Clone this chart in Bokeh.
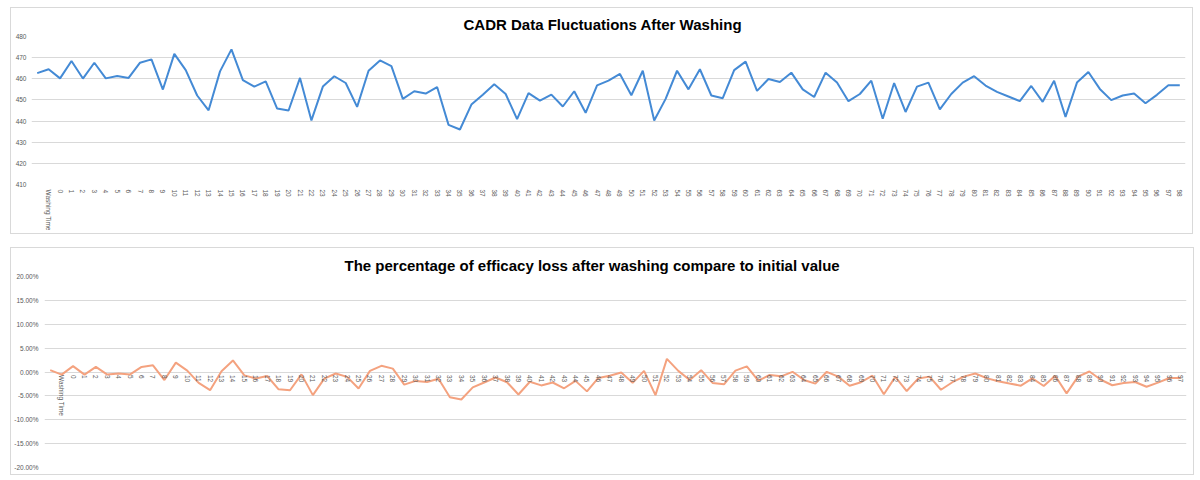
from bokeh.plotting import figure
from bokeh.models import FactorRange, SingleIntervalTicker, PrintfTickFormatter
from bokeh.embed import file_html
from bokeh.resources import INLINE

# --- CADR readings: an unlabelled initial test, the "Washing Time" header row, then washes 0..98
cadr_labels = ["", "Washing Time"] + [str(n) for n in range(99)]
cadr_values = [
    462.7, 464.5, 460.2, 468.4, 460.1, 467.6, 460.2, 461.3, 460.4, 467.6,
    469.2, 454.9, 471.8, 464.1, 452.1, 445.1, 463.5, 473.9, 459.4, 456.3,
    458.8, 445.9, 445.0, 460.4, 440.3, 456.3, 461.2, 458.0, 446.7, 463.8,
    468.7, 466.0, 450.5, 454.1, 453.0, 456.1, 438.2, 436.0, 447.8, 452.5,
    457.4, 452.8, 440.9, 453.2, 449.7, 452.5, 446.9, 454.1, 443.9, 456.9,
    459.1, 462.3, 452.2, 463.8, 440.3, 450.5, 463.8, 455.0, 464.5, 452.1,
    450.8, 464.1, 468.1, 454.3, 459.9, 458.5, 462.9, 455.0, 451.4, 462.9,
    458.2, 449.4, 452.8, 459.1, 441.1, 458.0, 444.3, 456.3, 458.2, 445.5,
    452.8, 458.2, 461.2, 456.8, 453.8, 451.6, 449.4, 456.6, 449.1, 459.1,
    442.0, 458.2, 463.2, 455.2, 449.9, 452.1, 453.0, 448.4, 452.4, 456.9,
    456.9,
]

# --- efficacy change against the initial value, in percent
loss_labels = ["", "Washing Time"] + [str(n) for n in range(98)]
loss_pct = [
    0.39, -0.54, 1.23, -0.56, 1.06, -0.54, -0.30, -0.50, 1.06, 1.40,
    -1.69, 1.97, 0.30, -2.29, -3.80, 0.17, 2.42, -0.71, -1.38, -0.84,
    -3.63, -3.83, -0.50, -4.84, -1.38, -0.32, -1.02, -3.46, 0.24, 1.30,
    0.71, -2.64, -1.86, -2.10, -1.43, -5.30, -5.77, -3.22, -2.20, -1.15,
    -2.14, -4.71, -2.05, -2.81, -2.20, -3.41, -1.86, -4.06, -1.25, -0.78,
    -0.09, -2.27, 0.24, -4.84, 2.75, 0.24, -1.66, 0.39, -2.29, -2.57,
    0.30, 1.17, -1.82, -0.61, -0.91, 0.04, -1.66, -2.44, 0.04, -0.97,
    -2.87, -2.14, -0.78, -4.67, -1.02, -3.98, -1.38, -0.97, -3.72, -2.14,
    -0.97, -0.32, -1.28, -1.92, -2.40, -2.87, -1.32, -2.94, -0.78, -4.47,
    -0.97, 0.11, -1.62, -2.77, -2.29, -2.10, -3.09, -2.23, -1.25, -1.25,
]

TITLE_FONT = "Liberation Sans"
LABEL_FONT = "Liberation Sans"
GRID = "#d9d9d9"
TEXT = "#595959"
BOX = {"border": "1px solid #d9d9d9"}


def style_axes(p, title, title_offset, title_standoff):
    p.outline_line_color = None
    p.xgrid.visible = False
    p.ygrid.grid_line_color = GRID
    for ax in (p.xaxis[0], p.yaxis[0]):
        ax.axis_line_color = None
        ax.major_tick_line_color = None
        ax.minor_tick_line_color = None
        ax.major_tick_in = 0
        ax.major_tick_out = 0
        ax.minor_tick_in = 0
        ax.minor_tick_out = 0
        ax.major_label_text_font = LABEL_FONT
        ax.major_label_text_font_size = "6.5px"
        ax.major_label_text_color = TEXT
    p.xaxis.major_label_orientation = "vertical"
    p.title.text = title
    p.title.align = "left"
    p.title.offset = title_offset
    p.title.standoff = title_standoff
    p.title.text_font = TITLE_FONT
    p.title.text_font_size = "15px"
    p.title.text_font_style = "bold"
    p.title.text_color = "#000000"


# ---------------- CADR chart ----------------
p1 = figure(
    frame_width=1154, frame_height=148,
    x_range=FactorRange(factors=cadr_labels), y_range=(410, 480),
    output_backend="svg", toolbar_location=None,
    min_border_left=20, min_border_right=7, min_border_top=28, min_border_bottom=48,
    styles=BOX, margin=(7, 0, 0, 10),
)
style_axes(p1, "CADR Data Fluctuations After Washing", 432, 8)
p1.yaxis.ticker = SingleIntervalTicker(interval=10, num_minor_ticks=0)
p1.yaxis.major_label_standoff = 5
p1.xaxis.major_label_standoff = 5
p1.line(x=cadr_labels, y=cadr_values, line_color="#448ad5", line_width=2)

# ---------------- efficacy loss chart ----------------
p2 = figure(
    frame_width=1142, frame_height=191,
    x_range=FactorRange(factors=loss_labels), y_range=(-20, 20),
    output_backend="svg", toolbar_location=None,
    min_border_left=32, min_border_right=7, min_border_top=28, min_border_bottom=7,
    styles=BOX, margin=(13, 0, 0, 10),
)
style_axes(p2, "The percentage of efficacy loss after washing compare to initial value", 300, 5)
p2.yaxis.ticker = SingleIntervalTicker(interval=5, num_minor_ticks=0)
p2.yaxis.formatter = PrintfTickFormatter(format="%.2f%%")
p2.yaxis.major_label_standoff = 6
p2.xaxis.fixed_location = 0
p2.xaxis.major_label_standoff = 3
p2.line(x=loss_labels, y=loss_pct, line_color="#f4a27f", line_width=2)

# two independent roots, so each chart keeps its own frame position
open("out.html", "w").write(file_html([p1, p2], INLINE))
